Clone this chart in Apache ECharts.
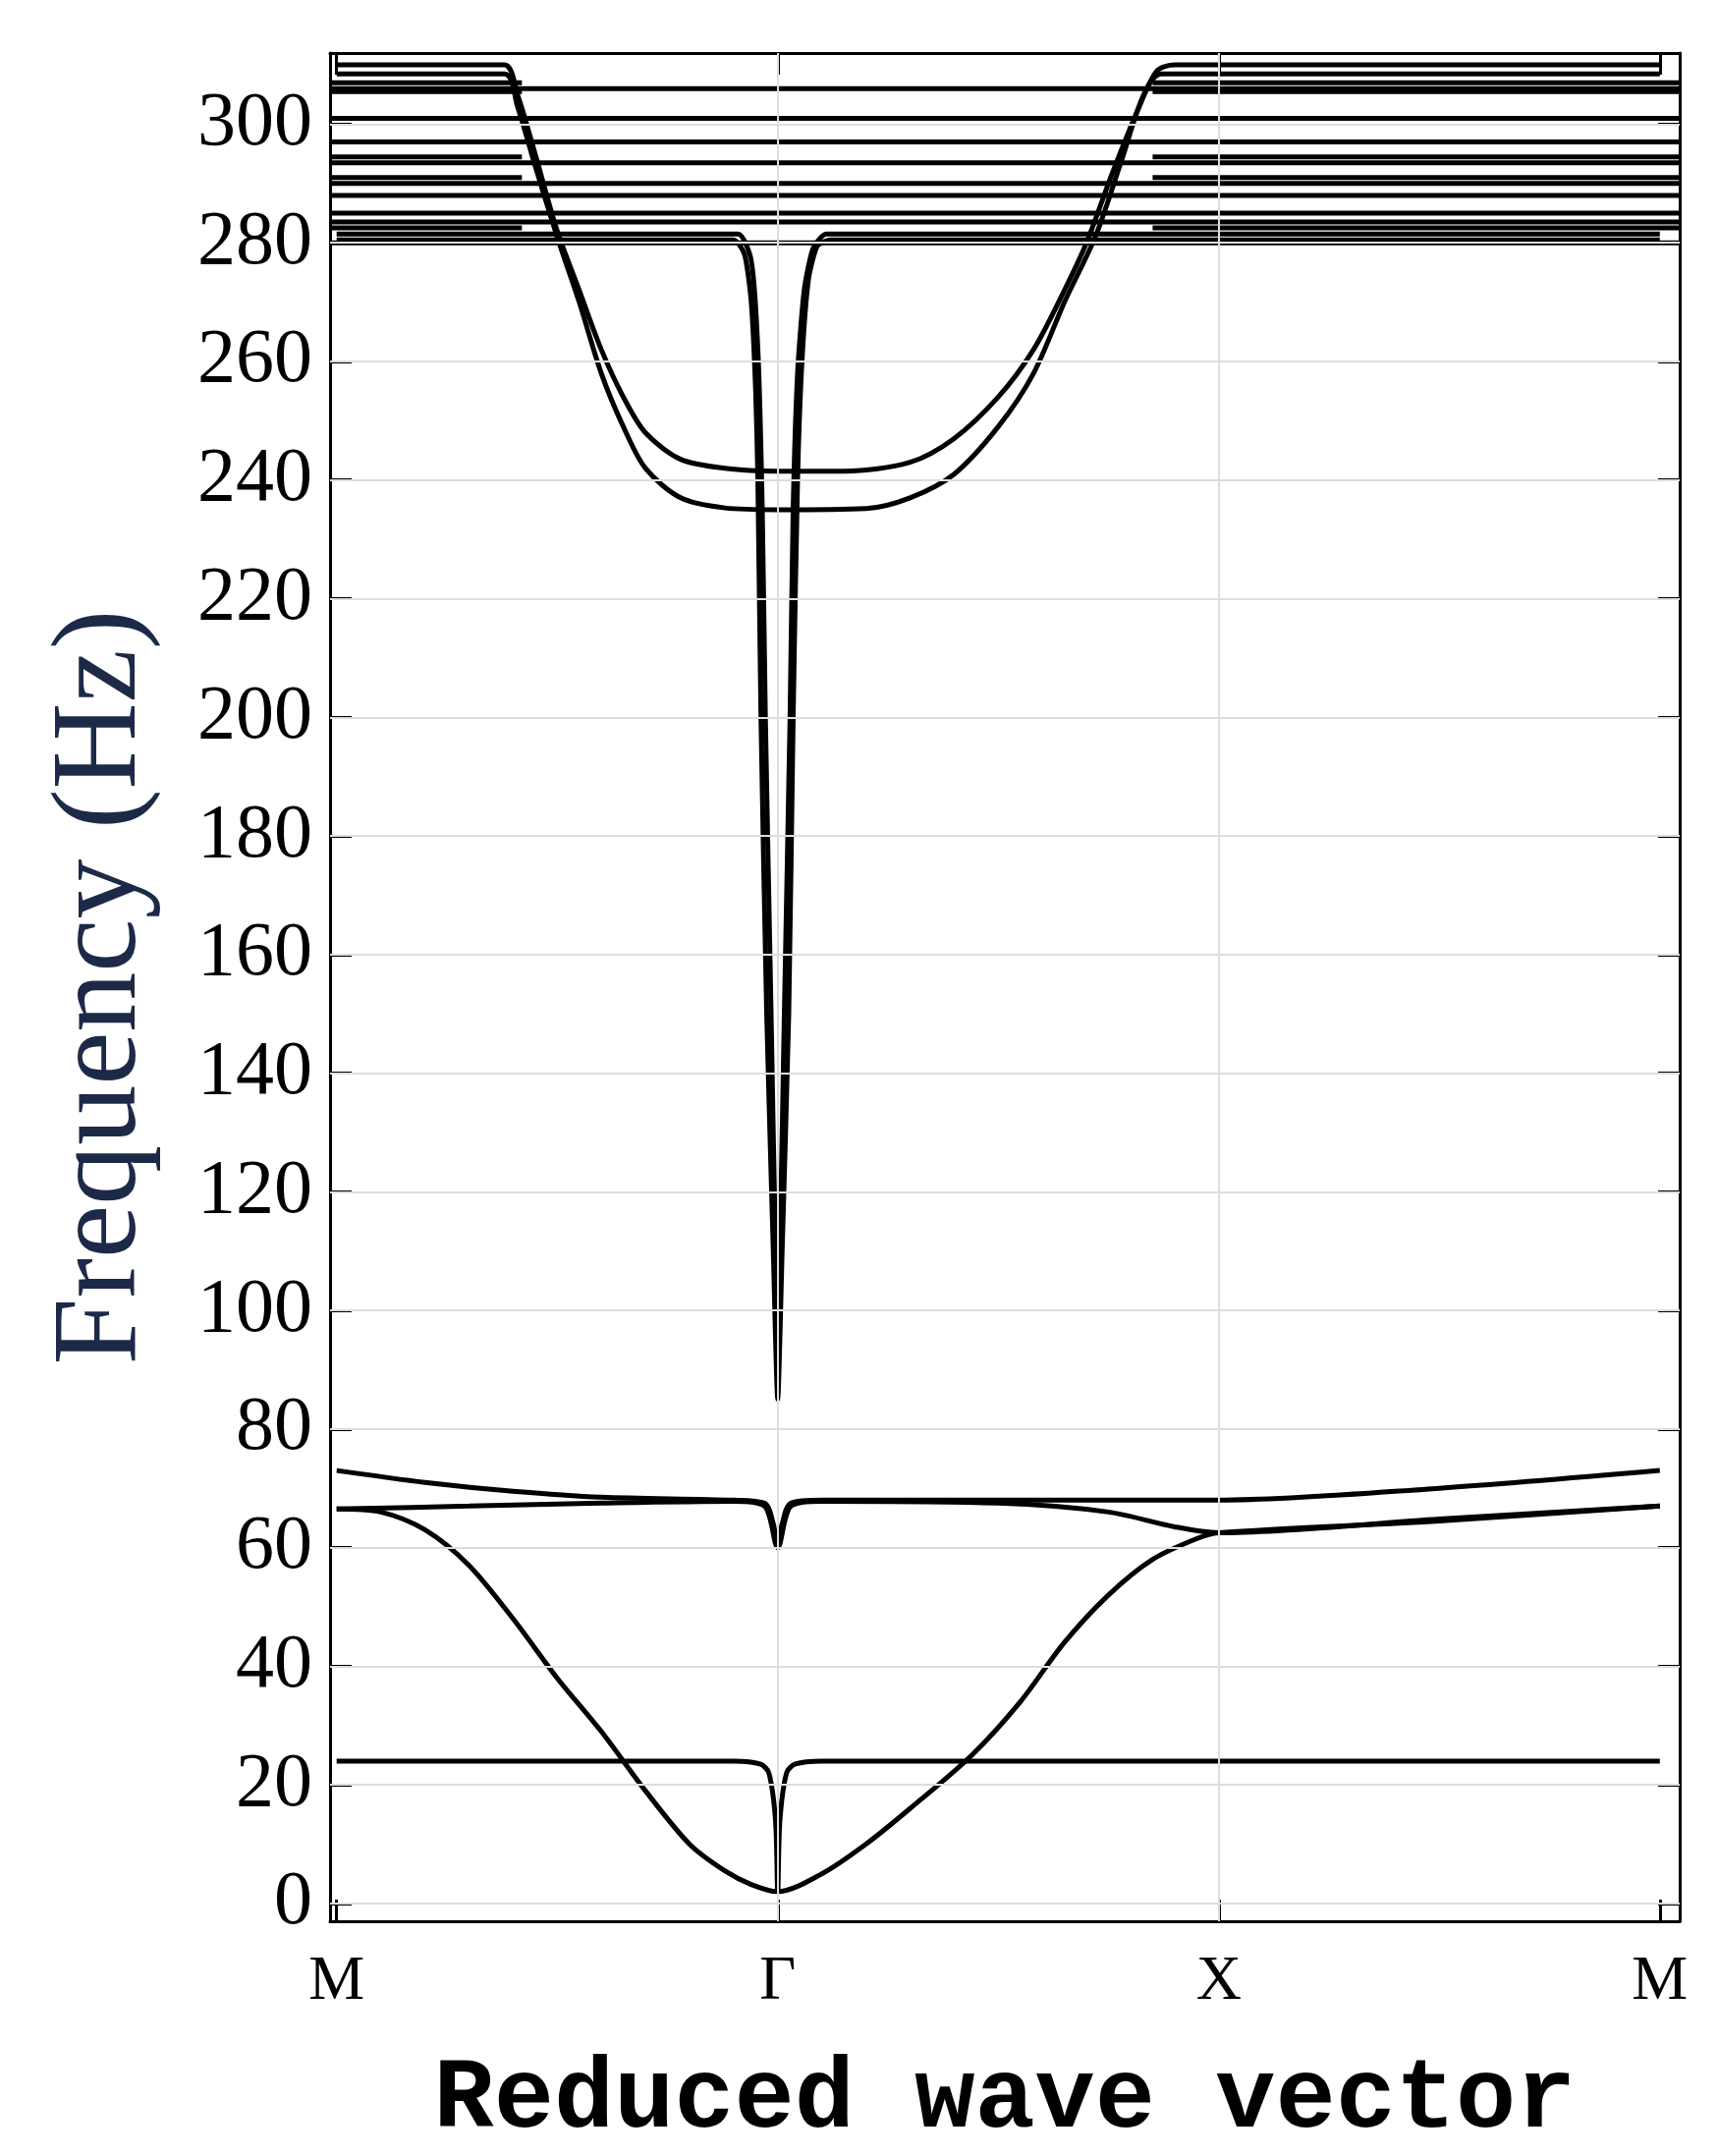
<!DOCTYPE html>
<html><head><meta charset="utf-8">
<script src="https://cdn.jsdelivr.net/npm/echarts@6/dist/echarts.min.js"></script>
<style>html,body{margin:0;padding:0;background:#fff}#c{width:1748px;height:2195px}</style>
</head><body><div id="c"></div>
<script>
const xTickValues = [0, 1, 2, 3];
const xTickLabels = ['M', 'Γ', 'X', 'M'];
const yTickValues = [0,20,40,60,80,100,120,140,160,180,200,220,240,260,280,300];

const flat24 = [[0,24],[0.9,24],[0.96,23.5],[0.98,22],[0.995,14],[1,2],[1.005,14],[1.02,22],[1.04,23.5],[1.1,24],[3,24]];
const acoustic = [[0,66.5],[0.1,66],[0.2,63],[0.3,57],[0.4,48],[0.5,38],[0.6,29],[0.7,19],[0.8,10],[0.88,5.5],[0.94,3.2],[1,2],
  [1.1,5],[1.2,10],[1.3,16],[1.44,25],[1.55,34],[1.65,44],[1.75,52],[1.85,58],[1.95,61.5],[2,62.5],[2.5,64.5],[3,67]];
const band73 = [[0,73],[0.2,71],[0.4,69.5],[0.6,68.5],[0.9,68],[0.97,67.5],[0.99,64],[1,60],[1.01,64],[1.03,67.5],[1.1,68],[1.5,68],[2,68],[2.5,70],[3,73]];
const band66 = [[0,66.5],[0.3,67],[0.6,67.5],[0.9,67.8],[0.97,67],[1,60],[1.03,67],[1.1,67.8],[1.5,67.5],[1.75,66],[1.9,63.5],[2,62.5],[2.5,64.8],[3,67]];
const uBand241 = [[0,310],[0.38,310],[0.41,305],[0.45,295],[0.5,282],[0.55,272],[0.6,262],[0.65,254],[0.7,248],[0.78,243.5],[0.88,242],[1,241.5],
  [1.15,241.5],[1.3,243],[1.4,247],[1.5,254],[1.58,262],[1.65,272],[1.7,280],[1.76,292],[1.82,303],[1.86,309],[1.9,310],[3,310]];
const uBand235 = [[0,308.5],[0.38,308.5],[0.41,303],[0.45,293],[0.5,281],[0.55,270],[0.6,258],[0.65,249],[0.7,242],[0.78,237],[0.88,235.3],[1,235],
  [1.2,235.2],[1.3,237],[1.4,241],[1.5,249],[1.58,258],[1.65,270],[1.72,281],[1.78,294],[1.83,305],[1.87,308.5],[3,308.5]];
const spikeA = [[0,280.5],[0.9,280.5],[0.925,278],[0.94,270],[0.95,255],[0.955,240],[0.962,200],[0.975,150],[0.99,110],[1,85],
  [1.01,110],[1.025,150],[1.035,200],[1.045,240],[1.055,260],[1.07,274],[1.09,279.5],[1.12,280.5],[3,280.5]];
const spikeB = [[0,281.5],[0.91,281.5],[0.94,277],[0.955,262],[0.965,235],[0.972,200],[0.985,150],[0.995,110],[1,100],
  [1.005,110],[1.015,150],[1.028,200],[1.035,235],[1.045,258],[1.06,272],[1.08,279],[1.11,281.5],[3,281.5]];
const flatLevels = [306, 301, 297, 293.5, 290, 288, 285, 283.5, 280];
const outerLevels = [307, 305.5, 294.5, 291, 282.5];

const LW = 5;
const smoothCurves = [flat24, acoustic, band73, band66, uBand241, uBand235];
const sharpCurves = [spikeA, spikeB];
const series = [];
smoothCurves.forEach(d => series.push({type:'line', data:d, smooth:0.3, symbol:'none', lineStyle:{color:'#000', width:LW}, z:3}));
sharpCurves.forEach(d => series.push({type:'line', data:d, smooth:0.2, symbol:'none', lineStyle:{color:'#000', width:LW, join:'round'}, z:3}));
flatLevels.forEach(v => series.push({type:'line', data:[[-0.015,v],[3.045,v]], symbol:'none', lineStyle:{color:'#000', width:LW}, z:3}));
outerLevels.forEach(v => {
  series.push({type:'line', data:[[-0.015,v],[0.42,v]], symbol:'none', lineStyle:{color:'#000', width:LW}, z:3});
  series.push({type:'line', data:[[1.85,v],[3.045,v]], symbol:'none', lineStyle:{color:'#000', width:LW}, z:3});
});
series.push({type:'line', data:[], markLine:{silent:true, symbol:'none', label:{show:false},
  lineStyle:{color:'#ddd', width:2, type:'solid'},
  data: yTickValues.map(v=>({yAxis:v})).concat([{xAxis:1},{xAxis:2}])}, z:1});

const serif = 'Liberation Serif, DejaVu Serif, serif';
const tickStyle = {color:'#000', width:3};
const chart = echarts.init(document.getElementById('c'));
chart.setOption({
  animation:false,
  grid:{left:336, right:38, top:54, bottom:217},
  xAxis:[{type:'value', min:-0.015, max:3.045, position:'bottom',
    axisLine:{onZero:false, lineStyle:{color:'#000', width:3}},
    axisTick:{inside:true, length:22, lineStyle:tickStyle, customValues:xTickValues},
    axisLabel:{customValues:xTickValues, formatter:v=>xTickLabels[Math.round(v)], fontFamily:serif, fontSize:64, color:'#000', margin:30},
    splitLine:{show:false},
    name:'Reduced wave vector', nameLocation:'middle', nameGap:132,
    nameTextStyle:{fontFamily:'Liberation Mono, DejaVu Sans Mono, monospace', fontWeight:'bold', fontSize:102, color:'#000'}},
   {type:'value', min:-0.015, max:3.045, position:'top',
    axisLine:{onZero:false, lineStyle:{color:'#000', width:3}},
    axisTick:{inside:true, length:22, lineStyle:tickStyle, customValues:xTickValues},
    axisLabel:{show:false}, splitLine:{show:false}}],
  yAxis:[{type:'value', min:-3, max:312, position:'left',
    axisLine:{show:true, onZero:false, lineStyle:{color:'#000', width:3}},
    axisTick:{show:true, inside:true, length:22, lineStyle:tickStyle, customValues:yTickValues},
    axisLabel:{customValues:yTickValues, fontFamily:serif, fontSize:78, color:'#000', margin:18},
    splitLine:{show:false},
    name:'Frequency (Hz)', nameLocation:'middle', nameGap:170,
    nameTextStyle:{fontFamily:serif, fontSize:122, color:'#1c2a48'}},
   {type:'value', min:-3, max:312, position:'right',
    axisLine:{show:true, onZero:false, lineStyle:{color:'#000', width:3}},
    axisTick:{show:true, inside:true, length:22, lineStyle:tickStyle, customValues:yTickValues},
    axisLabel:{show:false}, splitLine:{show:false}}],
  series: series
});
</script></body></html>
